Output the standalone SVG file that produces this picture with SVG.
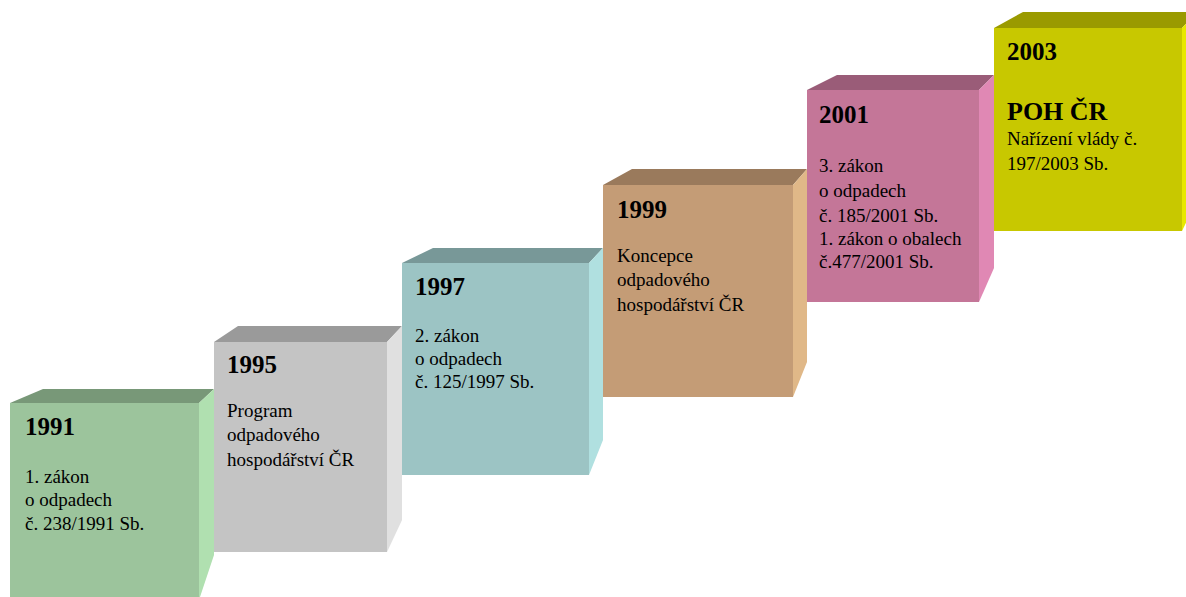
<svg xmlns="http://www.w3.org/2000/svg" width="1186" height="597" viewBox="0 0 1186 597">
<style>
.yr{font-family:"Liberation Serif","Times New Roman",serif;font-weight:bold;font-size:25px;fill:#000}
.tx{font-family:"Liberation Serif","Times New Roman",serif;font-size:19px;fill:#000}
.big{font-family:"Liberation Serif","Times New Roman",serif;font-weight:bold;font-size:26px;fill:#000}
</style>
<rect width="1186" height="597" fill="#ffffff"/>
<g id="box1991">
<rect x="10" y="403" width="189" height="197" fill="#9cc49c"/>
<polygon points="10,403 43,389 214,389 199,403" fill="#789878"/>
<polygon points="199,403 214,389 214,555 199,600" fill="#b0e0b0"/>
<text class="yr" x="25" y="435">1991</text>
<text class="tx" x="25" y="483">1. zákon</text>
<text class="tx" x="25" y="506">o odpadech</text>
<text class="tx" x="25" y="530">č. 238/1991 Sb.</text>
</g>
<g id="box1995">
<rect x="214" y="342" width="173" height="210" fill="#c4c4c4"/>
<polygon points="214,342 238,326 402,326 387,342" fill="#9a9a9a"/>
<polygon points="387,342 402,326 402,520 387,552" fill="#e0e0e0"/>
<text class="yr" x="227" y="373">1995</text>
<text class="tx" x="227" y="417">Program</text>
<text class="tx" x="227" y="441">odpadového</text>
<text class="tx" x="227" y="466">hospodářství ČR</text>
</g>
<g id="box1997">
<rect x="402" y="263" width="187" height="212" fill="#9cc4c4"/>
<polygon points="402,263 433,248 603,248 589,263" fill="#789898"/>
<polygon points="589,263 603,248 603,440 589,475" fill="#b0e0e0"/>
<text class="yr" x="415" y="295">1997</text>
<text class="tx" x="415" y="342">2. zákon</text>
<text class="tx" x="415" y="365">o odpadech</text>
<text class="tx" x="415" y="388">č. 125/1997 Sb.</text>
</g>
<g id="box1999">
<rect x="603" y="185" width="190" height="212" fill="#c49c76"/>
<polygon points="603,185 632,169 807,169 793,185" fill="#9a7a5c"/>
<polygon points="793,185 807,169 807,362 793,397" fill="#e0b888"/>
<text class="yr" x="617" y="218">1999</text>
<text class="tx" x="617" y="262">Koncepce</text>
<text class="tx" x="617" y="286">odpadového</text>
<text class="tx" x="617" y="311">hospodářství ČR</text>
</g>
<g id="box2001">
<rect x="807" y="90" width="172" height="212" fill="#c47698"/>
<polygon points="807,90 837,75 994,75 979,90" fill="#9a5c78"/>
<polygon points="979,90 994,75 994,268 979,302" fill="#e088b4"/>
<text class="yr" x="819" y="123">2001</text>
<text class="tx" x="819" y="172">3. zákon</text>
<text class="tx" x="819" y="197">o odpadech</text>
<text class="tx" x="819" y="222">č. 185/2001 Sb.</text>
<text class="tx" x="819" y="245">1. zákon o obalech</text>
<text class="tx" x="819" y="268">č.477/2001 Sb.</text>
</g>
<g id="box2003">
<rect x="994" y="28" width="188" height="203" fill="#c8c800"/>
<polygon points="994,28 1023,12 1197,12 1182,28" fill="#9a9a00"/>
<polygon points="1182,28 1197,12 1197,200 1182,231" fill="#e8e800"/>
<text class="yr" x="1007" y="60">2003</text>
<text class="big" x="1007" y="120">POH ČR</text>
<text class="tx" x="1007" y="145">Nařízení vlády č.</text>
<text class="tx" x="1007" y="170">197/2003 Sb.</text>
</g>
<g id="connectors"/>
</svg>
